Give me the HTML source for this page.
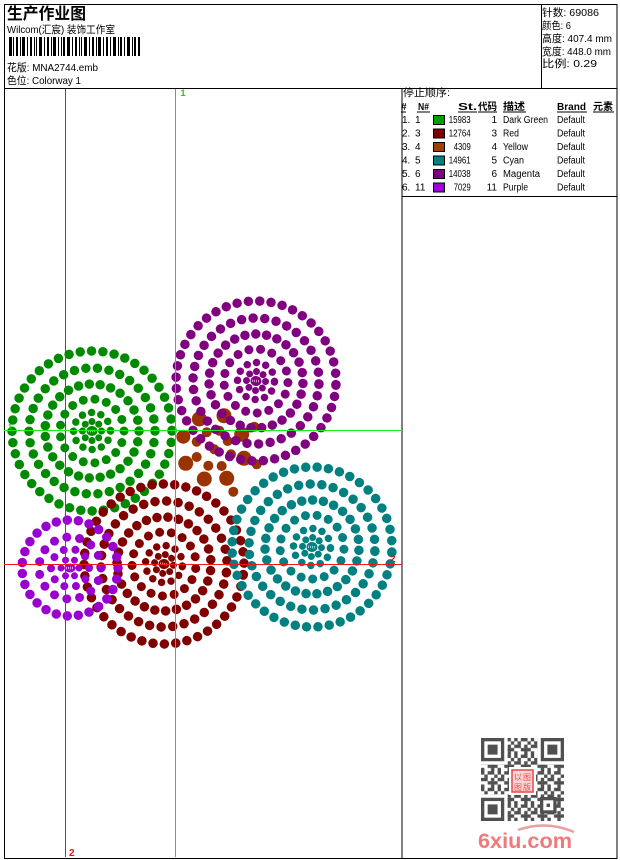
<!DOCTYPE html>
<html><head><meta charset="utf-8">
<style>
html,body{margin:0;padding:0;background:#fff;}
svg{display:block;}
text{font-family:"Liberation Sans","WenQuanYi Zen Hei","Noto Sans CJK SC",sans-serif;fill:#000;}
.r{fill:none;stroke-linecap:round;}
</style></head>
<body>
<svg width="620" height="860" viewBox="0 0 620 860" xmlns="http://www.w3.org/2000/svg">
<rect x="0" y="0" width="620" height="860" fill="#fff"/>

<!-- frame -->
<g stroke="#000" stroke-width="1" fill="none">
<rect x="4.5" y="4.5" width="612.5" height="854"/>
<line x1="4" y1="88.5" x2="617" y2="88.5"/>
<line x1="541.5" y1="4" x2="541.5" y2="88"/>
<line x1="402" y1="88" x2="402" y2="858"/>
<line x1="402" y1="196.5" x2="617" y2="196.5"/>
</g>

<!-- header left -->
<text x="7" y="19" font-size="16" font-weight="bold" textLength="79" lengthAdjust="spacingAndGlyphs">生产作业图</text>
<text x="7" y="33" font-size="10.5" textLength="108" lengthAdjust="spacingAndGlyphs">Wilcom(汇宸) 装饰工作室</text>
<g fill="#000">
<rect x="9" y="37" width="3" height="19"/><rect x="13" y="37" width="1" height="19"/><rect x="16" y="37" width="2" height="19"/><rect x="20" y="37" width="1" height="19"/><rect x="22" y="37" width="3" height="19"/><rect x="27" y="37" width="1" height="19"/><rect x="30" y="37" width="2" height="19"/><rect x="34" y="37" width="1" height="19"/><rect x="36" y="37" width="1" height="19"/><rect x="39" y="37" width="3" height="19"/><rect x="44" y="37" width="1" height="19"/><rect x="47" y="37" width="2" height="19"/><rect x="51" y="37" width="1" height="19"/><rect x="53" y="37" width="3" height="19"/><rect x="58" y="37" width="1" height="19"/><rect x="61" y="37" width="1" height="19"/><rect x="63" y="37" width="2" height="19"/><rect x="67" y="37" width="3" height="19"/><rect x="72" y="37" width="1" height="19"/><rect x="75" y="37" width="2" height="19"/><rect x="79" y="37" width="1" height="19"/><rect x="81" y="37" width="1" height="19"/><rect x="84" y="37" width="3" height="19"/><rect x="89" y="37" width="1" height="19"/><rect x="92" y="37" width="2" height="19"/><rect x="96" y="37" width="1" height="19"/><rect x="98" y="37" width="3" height="19"/><rect x="103" y="37" width="1" height="19"/><rect x="106" y="37" width="2" height="19"/><rect x="110" y="37" width="1" height="19"/><rect x="113" y="37" width="3" height="19"/><rect x="118" y="37" width="1" height="19"/><rect x="120" y="37" width="2" height="19"/><rect x="124" y="37" width="1" height="19"/><rect x="127" y="37" width="3" height="19"/><rect x="132" y="37" width="1" height="19"/><rect x="134" y="37" width="2" height="19"/><rect x="138" y="37" width="2" height="19"/>
</g>
<text x="7" y="71" font-size="10.5" textLength="91" lengthAdjust="spacingAndGlyphs">花版: MNA2744.emb</text>
<text x="7" y="84" font-size="10.5" textLength="74" lengthAdjust="spacingAndGlyphs">色位: Colorway 1</text>

<!-- header right -->
<g font-size="10.5">
<text x="542" y="16" textLength="57" lengthAdjust="spacingAndGlyphs">针数: 69086</text>
<text x="542" y="29" textLength="29" lengthAdjust="spacingAndGlyphs">颜色: 6</text>
<text x="542" y="42" textLength="70" lengthAdjust="spacingAndGlyphs">高度: 407.4 mm</text>
<text x="542" y="55" textLength="69" lengthAdjust="spacingAndGlyphs">宽度: 448.0 mm</text>
<text x="542" y="67" textLength="55" lengthAdjust="spacingAndGlyphs">比例: 0.29</text>
</g>

<!-- table -->
<text x="403" y="96" font-size="10.5" textLength="47" lengthAdjust="spacingAndGlyphs">停止顺序:</text>
<g font-size="10" font-weight="bold">
<text x="401" y="110">#</text>
<text x="418" y="110" textLength="11" lengthAdjust="spacingAndGlyphs">N#</text>
<text x="458" y="110" textLength="19" lengthAdjust="spacingAndGlyphs">St.</text>
<text x="478" y="110" textLength="19" lengthAdjust="spacingAndGlyphs">代码</text>
<text x="503" y="110" textLength="22" lengthAdjust="spacingAndGlyphs">描述</text>
<text x="557" y="110" textLength="29" lengthAdjust="spacingAndGlyphs">Brand</text>
<text x="593" y="110" textLength="20" lengthAdjust="spacingAndGlyphs">元素</text>
</g>
<g stroke="#000" stroke-width="1">
<line x1="401" y1="112" x2="406" y2="112"/>
<line x1="417" y1="112" x2="430" y2="112"/>
<line x1="458" y1="112" x2="477" y2="112"/>
<line x1="478" y1="112" x2="497" y2="112"/>
<line x1="503" y1="112" x2="526" y2="112"/>
<line x1="557" y1="112" x2="587" y2="112"/>
<line x1="593" y1="112" x2="614" y2="112"/>
</g>
<g font-size="10">
<text x="402" y="123">1.</text><text x="415" y="123">1</text>
<rect x="433.5" y="115.5" width="11" height="9" fill="#00a000" stroke="#000"/>
<text x="448.7" y="123" textLength="22" lengthAdjust="spacingAndGlyphs">15983</text>
<text x="497" y="123" text-anchor="end">1</text>
<text x="503" y="123" textLength="45" lengthAdjust="spacingAndGlyphs">Dark Green</text>
<text x="557" y="123" textLength="28" lengthAdjust="spacingAndGlyphs">Default</text>
<text x="402" y="136.5">2.</text><text x="415" y="136.5">3</text>
<rect x="433.5" y="129" width="11" height="9" fill="#800000" stroke="#000"/>
<text x="448.7" y="136.5" textLength="22" lengthAdjust="spacingAndGlyphs">12764</text>
<text x="497" y="136.5" text-anchor="end">3</text>
<text x="503" y="136.5" textLength="16" lengthAdjust="spacingAndGlyphs">Red</text>
<text x="557" y="136.5" textLength="28" lengthAdjust="spacingAndGlyphs">Default</text>
<text x="402" y="150">3.</text><text x="415" y="150">4</text>
<rect x="433.5" y="142.5" width="11" height="9" fill="#a04000" stroke="#000"/>
<text x="453.7" y="150" textLength="17" lengthAdjust="spacingAndGlyphs">4309</text>
<text x="497" y="150" text-anchor="end">4</text>
<text x="503" y="150" textLength="25" lengthAdjust="spacingAndGlyphs">Yellow</text>
<text x="557" y="150" textLength="28" lengthAdjust="spacingAndGlyphs">Default</text>
<text x="402" y="163.5">4.</text><text x="415" y="163.5">5</text>
<rect x="433.5" y="156" width="11" height="9" fill="#008080" stroke="#000"/>
<text x="448.7" y="163.5" textLength="22" lengthAdjust="spacingAndGlyphs">14961</text>
<text x="497" y="163.5" text-anchor="end">5</text>
<text x="503" y="163.5" textLength="21" lengthAdjust="spacingAndGlyphs">Cyan</text>
<text x="557" y="163.5" textLength="28" lengthAdjust="spacingAndGlyphs">Default</text>
<text x="402" y="177">5.</text><text x="415" y="177">6</text>
<rect x="433.5" y="169.5" width="11" height="9" fill="#800080" stroke="#000"/>
<text x="448.7" y="177" textLength="22" lengthAdjust="spacingAndGlyphs">14038</text>
<text x="497" y="177" text-anchor="end">6</text>
<text x="503" y="177" textLength="37" lengthAdjust="spacingAndGlyphs">Magenta</text>
<text x="557" y="177" textLength="28" lengthAdjust="spacingAndGlyphs">Default</text>
<text x="402" y="190.5">6.</text><text x="415" y="190.5">11</text>
<rect x="433.5" y="183" width="11" height="9" fill="#a000e0" stroke="#000"/>
<text x="453.7" y="190.5" textLength="17" lengthAdjust="spacingAndGlyphs">7029</text>
<text x="497" y="190.5" text-anchor="end">11</text>
<text x="503" y="190.5" textLength="25" lengthAdjust="spacingAndGlyphs">Purple</text>
<text x="557" y="190.5" textLength="28" lengthAdjust="spacingAndGlyphs">Default</text>
</g>

<!-- designs -->
<defs>
<g id="big">
<circle class="r" r="9.5" pathLength="8" stroke-dasharray="0 1" stroke-width="7"/>
<circle class="r" r="18.5" pathLength="12" stroke-dasharray="0 1" stroke-width="7.5"/>
<circle class="r" r="32" pathLength="17" stroke-dasharray="0 1" stroke-width="9"/>
<circle class="r" r="47" pathLength="27" stroke-dasharray="0 1" stroke-width="9.5"/>
<circle class="r" r="63" pathLength="34" stroke-dasharray="0 1" stroke-width="9.5"/>
<circle class="r" r="80" pathLength="44" stroke-dasharray="0 1" stroke-width="9.5"/>
<ellipse rx="5.5" ry="5" stroke="none"/>
<line x1="-4" y1="0" x2="4" y2="0" stroke="#fff" stroke-width="2.5" stroke-dasharray="1 1" opacity="0.6"/>
</g>
<g id="small">
<circle class="r" r="9" pathLength="6" stroke-dasharray="0 1" stroke-width="7"/>
<circle class="r" r="19" pathLength="10" stroke-dasharray="0 1" stroke-width="8"/>
<circle class="r" r="31" pathLength="15" stroke-dasharray="0 1" stroke-width="9"/>
<circle class="r" r="48" pathLength="27" stroke-dasharray="0 1" stroke-width="9.5"/>
<ellipse rx="5.5" ry="4.5" stroke="none"/>
<line x1="-4" y1="0" x2="4" y2="0" stroke="#fff" stroke-width="2.5" stroke-dasharray="1 1" opacity="0.6"/>
</g>
<pattern id="qp" width="16.6" height="16.6" patternUnits="userSpaceOnUse" x="481" y="738">
<g fill="#505050">
<rect x="0" y="0" width="3.4" height="3.4"/><rect x="6.64" y="0" width="6.7" height="3.4"/>
<rect x="3.32" y="3.32" width="3.4" height="3.4"/><rect x="13.28" y="3.32" width="3.4" height="3.4"/>
<rect x="0" y="6.64" width="6.7" height="3.4"/><rect x="9.96" y="6.64" width="3.4" height="3.4"/>
<rect x="6.64" y="9.96" width="9.96" height="3.4"/>
<rect x="0" y="13.28" width="3.4" height="3.4"/><rect x="9.96" y="13.28" width="3.4" height="3.4"/>
</g>
</pattern>
</defs>

<g transform="translate(92,431)" stroke="#008a00" fill="#008a00"><use href="#big"/></g>
<g transform="translate(164,564) rotate(8)" stroke="#800000" fill="#800000"><use href="#big"/></g>
<g fill="#993300">
<circle cx="199.3" cy="419" r="7.5"/><circle cx="224" cy="415.7" r="7.5"/><circle cx="183.3" cy="436.7" r="7"/>
<circle cx="206.7" cy="432.3" r="5"/><circle cx="219.3" cy="430.7" r="5"/><circle cx="241.7" cy="434.3" r="7.5"/>
<circle cx="254.3" cy="426.7" r="5"/><circle cx="196.7" cy="441.7" r="5"/><circle cx="214.3" cy="449.3" r="5"/>
<circle cx="227.7" cy="441" r="5"/><circle cx="196.7" cy="457" r="5"/><circle cx="244" cy="458.3" r="7.5"/>
<circle cx="185.7" cy="463.3" r="7.5"/><circle cx="208.3" cy="465.7" r="5"/><circle cx="221.7" cy="466" r="5"/>
<circle cx="231" cy="454.3" r="5"/><circle cx="256.7" cy="464.3" r="5"/><circle cx="204.3" cy="479" r="7.5"/>
<circle cx="226.7" cy="478.3" r="7.5"/><circle cx="233.3" cy="491.7" r="5"/>
</g>
<g transform="translate(312,547) rotate(4)" stroke="#008080" fill="#008080"><use href="#big"/></g>
<g transform="translate(256,381) rotate(3)" stroke="#800080" fill="#800080"><use href="#big"/></g>
<g transform="translate(70,568)" stroke="#9900d0" fill="#9900d0"><use href="#small"/></g>

<!-- guide lines -->
<line x1="65.5" y1="89" x2="65.5" y2="857" stroke="#e01818" stroke-width="1"/>
<line x1="175.5" y1="89" x2="175.5" y2="857" stroke="#18e018" stroke-width="1"/>
<line x1="4" y1="430.5" x2="402" y2="430.5" stroke="#18f018" stroke-width="1"/>
<line x1="4" y1="564.5" x2="402" y2="564.5" stroke="#f01818" stroke-width="1"/>
<text x="180.5" y="96" font-size="9" font-weight="bold" style="fill:#10d010">1</text>
<text x="69" y="856" font-size="10" font-weight="bold" style="fill:#e01818">2</text>
<text x="390" y="562" font-size="10" font-weight="bold" style="fill:#e01818">2</text>
<text x="8" y="429" font-size="7" font-weight="bold" style="fill:#10d010">1</text>

<!-- QR -->
<rect x="481" y="738" width="83" height="83" fill="url(#qp)"/>
<g>
<rect x="481" y="738" width="26.6" height="26.6" fill="#fff"/>
<rect x="537.4" y="738" width="26.6" height="26.6" fill="#fff"/>
<rect x="481" y="794.4" width="26.6" height="26.6" fill="#fff"/>
<rect x="481" y="738" width="23.24" height="23.24" fill="#505050"/><rect x="484.32" y="741.32" width="16.6" height="16.6" fill="#fff"/><rect x="487.64" y="744.64" width="9.96" height="9.96" fill="#505050"/>
<rect x="540.76" y="738" width="23.24" height="23.24" fill="#505050"/><rect x="544.08" y="741.32" width="16.6" height="16.6" fill="#fff"/><rect x="547.4" y="744.64" width="9.96" height="9.96" fill="#505050"/>
<rect x="481" y="797.76" width="23.24" height="23.24" fill="#505050"/><rect x="484.32" y="801.08" width="16.6" height="16.6" fill="#fff"/><rect x="487.64" y="804.4" width="9.96" height="9.96" fill="#505050"/>
<rect x="540" y="797" width="16.6" height="16.6" fill="#505050"/><rect x="543.3" y="800.3" width="10" height="10" fill="#fff"/><rect x="546.6" y="803.6" width="3.4" height="3.4" fill="#505050"/>
<rect x="509" y="767" width="27" height="28" fill="#fff"/>
<rect x="512" y="770" width="21" height="22" fill="#fbd6d6" stroke="#e84848" stroke-width="1.5"/>
<text x="514" y="780" font-size="8" style="fill:#e84848">以</text>
<text x="523" y="780" font-size="8" style="fill:#e84848">图</text>
<text x="514" y="790" font-size="8" style="fill:#e84848">图</text>
<text x="523" y="790" font-size="8" style="fill:#e84848">版</text>
</g>
<path d="M 518 830 Q 546 820 574 832" stroke="#eaa0a0" stroke-width="2.5" fill="none"/>
<text x="478" y="848" font-size="21" font-weight="bold" textLength="94" lengthAdjust="spacingAndGlyphs" style="fill:#f07a7a">6xiu.com</text>
</svg>
</body></html>
